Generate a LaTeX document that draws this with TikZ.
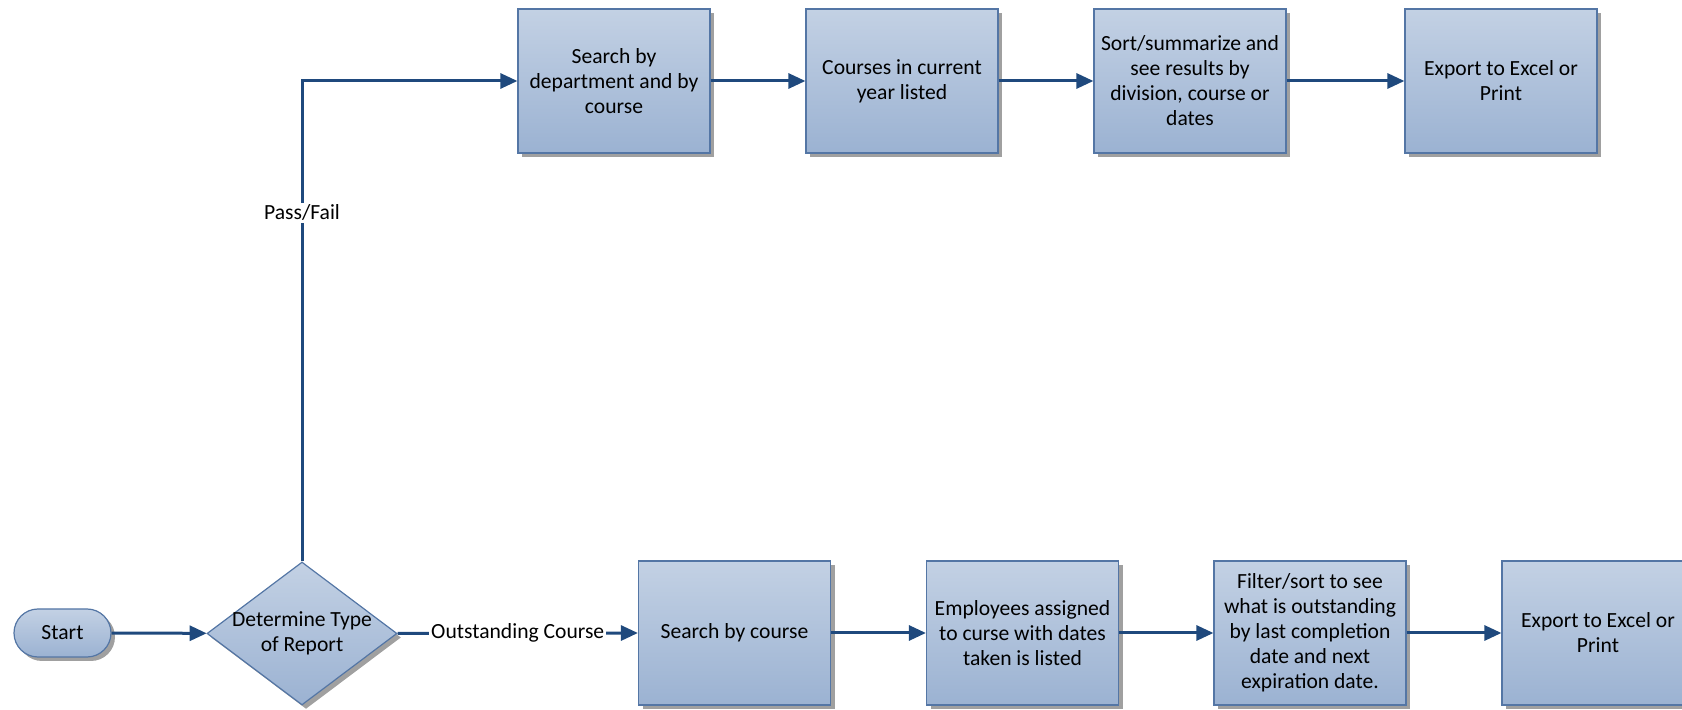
\documentclass[tikz,border=0pt]{standalone}
\usepackage{fontspec}
\setmainfont{Carlito}
\usetikzlibrary{shapes.geometric,arrows.meta,shadows}
\definecolor{boxtop}{RGB}{195,209,228}
\definecolor{boxbot}{RGB}{155,178,210}
\definecolor{boxline}{RGB}{84,118,165}
\definecolor{arrowc}{RGB}{31,73,125}
\definecolor{shadowc}{RGB}{160,160,160}
\tikzset{
  shape base/.style={draw=boxline, line width=0.6pt, top color=boxtop, bottom color=boxbot,
    font=\fontsize{10.8}{12.5}\selectfont, align=center, inner sep=0pt,
    drop shadow={shadow xshift=2pt, shadow yshift=-2pt, fill=shadowc, opacity=1}},
  procbox/.style={shape base, rectangle, minimum width=96pt, minimum height=72pt},
  decbox/.style={shape base, diamond, minimum width=95pt, minimum height=71.5pt, aspect=1.33, inner sep=-6pt},
  termbox/.style={shape base, rectangle, rounded corners=12pt, minimum width=48.5pt, minimum height=24pt},
  flow/.style={draw=arrowc, line width=1.5pt, -{Triangle[length=8.5pt,width=7.5pt]}},
  lbl/.style={font=\fontsize{10.8}{12.5}\selectfont, fill=white, inner sep=1pt}
}
\begin{document}
\begin{tikzpicture}[x=0.5pt,y=-0.5pt]
\useasboundingbox (0,0) rectangle (1682,710);
\clip (0,0) rectangle (1682,710);
% bottom row
\node[termbox] (start) at (62.5,633) {Start};
\node[decbox] (dec) at (302,633.5) {Determine Type\\of Report};
\node[procbox] (b1) at (734.5,633) {Search by course};
\node[procbox] (b2) at (1022.5,633) {Employees assigned\\to curse with dates\\taken is listed};
\node[procbox] (b3) at (1310,633) {Filter/sort to see\\what is outstanding\\by last completion\\date and next\\expiration date.};
\node[procbox] (b4) at (1598,633) {Export to Excel or\\Print};
% top row
\node[procbox] (t1) at (614,81) {Search by\\department and by\\course};
\node[procbox] (t2) at (902,81) {Courses in current\\year listed};
\node[procbox] (t3) at (1190,81) {Sort/summarize and\\see results by\\division, course or\\dates};
\node[procbox] (t4) at (1501,81) {Export to Excel or\\Print};
% connectors
\draw[flow] (start) -- (dec);
\draw[flow] (dec.east) -- node[lbl, pos=0.5] {Outstanding Course} (b1.west);
\draw[flow] (b1) -- (b2);
\draw[flow] (b2) -- (b3);
\draw[flow] (b3) -- (b4);
\draw[flow] (dec.north) |- node[lbl, pos=0.363] {Pass/Fail} (t1.west);
\draw[flow] (t1) -- (t2);
\draw[flow] (t2) -- (t3);
\draw[flow] (t3) -- (t4);
\end{tikzpicture}
\end{document}
